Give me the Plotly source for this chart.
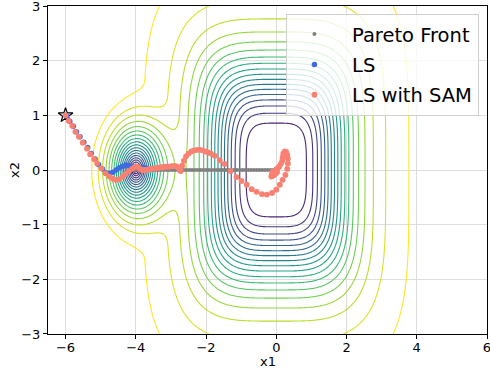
import numpy as np
import plotly.graph_objects as go

# ---------------- data ----------------
# loss-landscape parameters (two wells): right well at (0,0), left well at (-4,0)
right_center = (0.0, 0.0)
right_depth = 19.0
right_scale = 1.8
right_power = 3.9
left_center = (-4.0, 0.0)
left_depth = 20.2
left_radius = 1.7
left_power = 2.5
contour_levels = (-20, -1, 1)

start_point_x = [-6.0]
start_point_y = [1.0]

pareto_x = [-4.00, -3.92, -3.84, -3.76, -3.68, -3.60, -3.52, -3.44, -3.36, -3.28,
            -3.20, -3.12, -3.04, -2.96, -2.88, -2.80, -2.72, -2.64, -2.56, -2.48,
            -2.40, -2.32, -2.24, -2.16, -2.08, -2.00, -1.92, -1.84, -1.76, -1.68,
            -1.60, -1.52, -1.44, -1.36, -1.28, -1.20, -1.12, -1.04, -0.96, -0.88,
            -0.80, -0.72, -0.64, -0.56, -0.48, -0.40, -0.32, -0.24, -0.16, -0.08, 0.00]
pareto_y = [0.0] * len(pareto_x)

ls_x = [-5.97, -5.88, -5.78, -5.69, -5.59, -5.48, -5.37, -5.27, -5.16, -5.06,
        -4.95, -4.85, -4.74, -4.65, -4.56, -4.47, -4.37, -4.28, -4.19, -4.10,
        -4.01, -3.93, -3.85, -3.78, -3.72, -3.66]
ls_y = [0.99, 0.89, 0.80, 0.70, 0.61, 0.51, 0.41, 0.30, 0.20, 0.10,
        0.02, -0.05, -0.06, -0.04, 0.00, 0.04, 0.07, 0.09, 0.08, 0.06,
        0.05, 0.04, 0.04, 0.04, 0.03, 0.02]

sam_x = [-6.00, -5.91, -5.81, -5.72, -5.62, -5.51, -5.39, -5.30, -5.19, -5.10,
         -4.98, -4.86, -4.75, -4.65, -4.56, -4.47, -4.38, -4.29, -4.20, -4.11,
         -4.04, -3.98, -3.93, -3.88, -3.82, -3.76, -3.70, -3.64, -3.58, -3.52,
         -3.46, -3.40, -3.34, -3.28, -3.22, -3.16, -3.10, -3.04, -2.98, -2.92,
         -2.86, -2.80, -2.75, -2.72, -2.68, -2.63, -2.57, -2.50, -2.42, -2.34,
         -2.26, -2.18, -2.10, -2.02, -1.94, -1.86, -1.75, -1.61, -1.47, -1.30,
         -1.13, -0.99, -0.84, -0.70, -0.56, -0.41, -0.27, -0.12, 0.00, 0.10,
         0.18, 0.26, 0.31, 0.33, 0.33, 0.31, 0.28, 0.24, 0.20, 0.18,
         0.17, 0.13, 0.08, 0.04, 0.00, -0.03, -0.06, -0.09, -0.11, -0.13,
         -0.14, -0.05, -0.10, 0.02, -0.08, -0.02, -0.12]
sam_y = [1.00, 0.90, 0.81, 0.70, 0.61, 0.50, 0.39, 0.29, 0.20, 0.12,
         0.03, -0.06, -0.12, -0.16, -0.18, -0.17, -0.12, -0.07, -0.02, 0.02,
         0.05, 0.06, 0.05, 0.02, 0.00, 0.00, 0.00, 0.01, 0.02, 0.03,
         0.03, 0.04, 0.04, 0.05, 0.05, 0.06, 0.06, 0.06, 0.07, 0.07,
         0.07, 0.05, 0.00, -0.02, 0.08, 0.17, 0.25, 0.30, 0.34, 0.36,
         0.37, 0.37, 0.36, 0.34, 0.32, 0.30, 0.26, 0.18, 0.11, -0.02,
         -0.13, -0.20, -0.27, -0.35, -0.40, -0.44, -0.45, -0.42, -0.36, -0.27,
         -0.18, -0.09, 0.02, 0.12, 0.21, 0.28, 0.33, 0.34, 0.30, 0.23,
         0.17, 0.11, 0.06, 0.03, 0.00, -0.02, -0.04, -0.06, -0.08, -0.10,
         -0.12, -0.08, -0.03, -0.04, -0.10, -0.07, -0.05]

x_range = [-6.5, 6.0]
y_range = [-3.0, 3.0]
x_ticks = [-6, -4, -2, 0, 2, 4, 6]
y_ticks = [-3, -2, -1, 0, 1, 2, 3]
x_ticktext = ["−6", "−4", "−2", "0", "2", "4", "6"]
y_ticktext = ["−3", "−2", "−1", "0", "1", "2", "3"]

# ---------------- landscape grid ----------------
gx = np.linspace(x_range[0], x_range[1], 376)
gy = np.linspace(y_range[0], y_range[1], 241)
X, Y = np.meshgrid(gx, gy)
r4 = ((X - right_center[0]) ** 4 + (Y - right_center[1]) ** 4) ** 0.25
R = -right_depth / (1.0 + (r4 / right_scale) ** right_power)
d = np.sqrt((X - left_center[0]) ** 2 + (Y - left_center[1]) ** 2)
L = -left_depth * np.clip(1.0 - d / left_radius, 0, None) ** left_power
Z = np.round(R + L, 4)

fig = go.Figure()
fig.add_trace(go.Contour(
    x=gx, y=gy, z=Z,
    contours=dict(coloring="lines", start=contour_levels[0], end=contour_levels[1],
                  size=contour_levels[2]),
    colorscale="Viridis", zmin=-21, zmax=-1, showscale=False,
    line=dict(width=1.1), showlegend=False, hoverinfo="skip",
))
fig.add_trace(go.Scatter(
    x=start_point_x, y=start_point_y, mode="markers",
    marker=dict(symbol="star-open", size=11, color="black", line=dict(width=1.2)),
    showlegend=False, hoverinfo="skip",
))
fig.add_trace(go.Scatter(
    x=pareto_x, y=pareto_y, mode="markers", name="\u00a0\u2009Pareto Front", legendgroup="a",
    marker=dict(color="grey", size=4.0),
))
fig.add_trace(go.Scatter(
    x=ls_x, y=ls_y, mode="markers", name="\u00a0\u2009LS", legendgroup="b",
    marker=dict(color="royalblue", size=5.5),
))
fig.add_trace(go.Scatter(
    x=sam_x, y=sam_y, mode="markers", name="\u00a0\u2009LS with SAM", legendgroup="c",
    marker=dict(color="salmon", size=5.8),
))

axis_common = dict(
    showline=True, linecolor="black", linewidth=1, mirror=True,
    ticks="outside", ticklen=4, tickcolor="black", automargin=False,
    ticklabeloverflow="allow",
    showgrid=True, gridcolor="#dedede", gridwidth=1, zeroline=False,
    tickfont=dict(family="DejaVu Sans", size=13, color="black"),
)
fig.update_layout(
    width=490, height=369,
    margin=dict(l=48, r=3, t=6, b=35),
    plot_bgcolor="white", paper_bgcolor="white",
    font=dict(family="DejaVu Sans", color="black"),
    xaxis=dict(range=x_range, tickvals=x_ticks, ticktext=x_ticktext,
               ticklabelstandoff=-3, **axis_common),
    yaxis=dict(range=[y_range[0] - 0.001, y_range[1] + 0.001], tickvals=y_ticks,
               ticktext=y_ticktext, **axis_common),
    legend=dict(x=0.542, y=0.976, xanchor="left", yanchor="top",
                bgcolor="rgba(255,255,255,0.8)", bordercolor="#d0d0d0", borderwidth=1,
                font=dict(family="DejaVu Sans", size=19.5, color="black"),
                itemsizing="trace", itemwidth=45, tracegroupgap=2),
    showlegend=True,
    annotations=[
        dict(text="x1", xref="paper", yref="paper", x=0.5, y=0, yshift=-27,
             xanchor="center", yanchor="middle", showarrow=False,
             font=dict(family="DejaVu Sans", size=13)),
        dict(text="x2", xref="paper", yref="paper", x=0, y=0.5, xshift=-34,
             xanchor="center", yanchor="middle", showarrow=False, textangle=-90,
             font=dict(family="DejaVu Sans", size=13)),
    ],
)
fig.write_html("out.html", config={"displayModeBar": False},
               post_script="document.body.style.margin='0';")
